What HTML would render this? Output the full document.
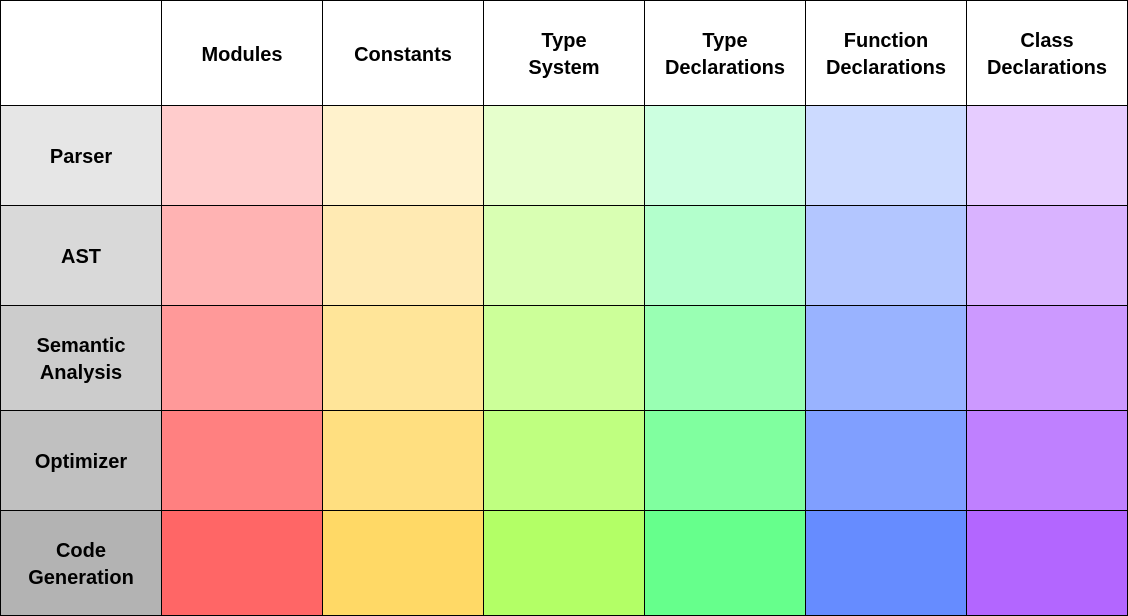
<!DOCTYPE html>
<html><head><meta charset="utf-8"><style>
html,body{margin:0;padding:0;background:#fff;}
#g{position:relative;width:1128px;height:616px;overflow:hidden;font-family:"Liberation Sans",Arial,sans-serif;font-weight:bold;font-size:20px;color:#000;}
.c{position:absolute;box-sizing:border-box;border:1px solid #000;display:flex;align-items:center;justify-content:center;text-align:center;line-height:27px;padding-top:4px;}
</style></head><body><div id="g">
<script>
var xs=[0,161,322,483,644,805,966,1127];
var ys=[0,105,205,305,410,510,615];
var heads=["","Modules","Constants","Type<br>System","Type<br>Declarations","Function<br>Declarations","Class<br>Declarations"];
var rows=["Parser","AST","Semantic<br>Analysis","Optimizer","Code<br>Generation"];
var cols=[
["#e6e6e6","#ffcccc","#fff2cc","#e6ffcc","#ccffe0","#ccdaff","#e6ccff"],
["#d9d9d9","#ffb3b3","#ffeab3","#d9ffb3","#b3ffcc","#b3c6ff","#d9b3ff"],
["#cccccc","#ff9999","#ffe599","#ccff99","#99ffb3","#99b3ff","#cc99ff"],
["#c0c0c0","#ff8080","#ffdf80","#bfff80","#80ff9f","#809fff","#bf80ff"],
["#b3b3b3","#ff6666","#ffd966","#b3ff66","#66ff8c","#668cff","#b366ff"]];
var h="";
for(var r=0;r<6;r++)for(var c=0;c<7;c++){
 var bg=r==0?"#fff":cols[r-1][c];
 var t=r==0?heads[c]:(c==0?rows[r-1]:"");
 h+='<div class="c" style="left:'+xs[c]+'px;top:'+ys[r]+'px;width:'+(xs[c+1]-xs[c]+1)+'px;height:'+(ys[r+1]-ys[r]+1)+'px;background:'+bg+'">'+t+'</div>';
}
document.getElementById("g").innerHTML=h;
</script>
</div></body></html>
